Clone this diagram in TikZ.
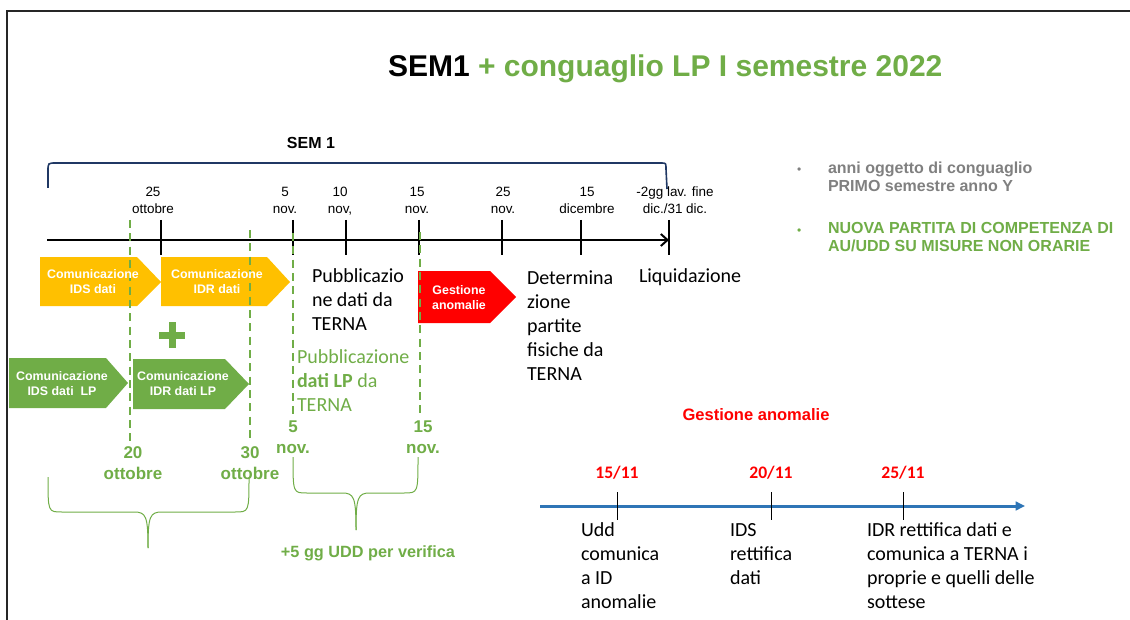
\documentclass[tikz,border=0pt]{standalone}
\usepackage{fontspec}
\setmainfont{Liberation Sans}
\newfontfamily\calib{Carlito}
\usetikzlibrary{arrows.meta}
\definecolor{lpgreen}{HTML}{70AD47}
\definecolor{ambra}{HTML}{FFC000}
\definecolor{brblue}{HTML}{203864}
\definecolor{tlblue}{HTML}{2E75B6}
\definecolor{bulgray}{HTML}{808080}
\tikzset{
  txt/.style={inner sep=0pt, outer sep=0pt},
  ticklbl/.style={txt, anchor=base, align=center, font=\fontsize{10.1}{12.75}\selectfont},
  boxtxt/.style={txt, anchor=base, align=center, text=white, font=\fontsize{9.3}{11.25}\selectfont\bfseries},
  caltxt/.style={txt, anchor=base west, align=left, font=\calib\fontsize{15}{18}\selectfont},
  gdate/.style={txt, anchor=base, align=center, text=lpgreen, font=\fontsize{12.75}{15.75}\selectfont\bfseries},
  gdash/.style={lpgreen, line width=1.5pt, dash pattern=on 6pt off 4pt},
  gbrace/.style={lpgreen, line width=0.75pt},
  tickmark/.style={black, line width=0.9pt},
  bultxt/.style={txt, anchor=base west, align=left, font=\fontsize{12}{13.5}\selectfont\bfseries},
}
\begin{document}
\begin{tikzpicture}[x=0.75pt,y=-0.75pt]
\useasboundingbox (0,0) rectangle (1130,620);
% frame
\draw[line width=1.5pt, black!85] (7,620) -- (7,11) -- (1130,11);
% title
\node[txt, anchor=base west, font=\fontsize{22.5}{27}\selectfont\bfseries] (title) at (388,76.5) {SEM1 \textcolor{lpgreen}{+ conguaglio LP I semestre 2022}};
% SEM 1 bracket
\node[txt, anchor=base, font=\fontsize{12}{14}\selectfont\bfseries] (sem) at (311,149) {SEM 1};
\draw[brblue, line width=1.2pt] (48,188) -- (48,171) .. controls (48,163) .. (56,163) -- (661,163) .. controls (666,163) .. (666,169) -- (667,189);
% main axis
\coordinate (ax0) at (47,240);
\coordinate (ax1) at (669,240);
\draw[line width=1.5pt, -{Straight Barb[length=5pt,width=9pt]}] (ax0) -- (ax1);
\foreach \t in {161,293,346,419,502,581,669} \draw[tickmark] (\t,220) -- (\t,255);
\node[ticklbl] (l25o) at (153,214) {25\\ottobre};
\node[ticklbl] (l5n) at (285,214) {5\\nov.};
\node[ticklbl] (l10n) at (340,214) {10\\nov,};
\node[ticklbl] (l15n) at (417,214) {15\\nov.};
\node[ticklbl] (l25n) at (503,214) {25\\nov.};
\node[ticklbl] (l15d) at (587,214) {15\\dicembre};
\node[ticklbl] (lfin) at (675,214) {-2gg lav. fine\\dic./31 dic.};
% arrow boxes
\fill[ambra] (40,257) -- (137,257) -- (161,282) -- (137,306) -- (40,306) -- cycle;
\fill[ambra] (161,257) -- (267,257) -- (290,282) -- (267,306) -- (161,306) -- cycle;
\fill[lpgreen] (9,358) -- (106,358) -- (128,383) -- (106,408) -- (9,408) -- cycle;
\fill[lpgreen] (133,359) -- (225,359) -- (249,384) -- (225,409) -- (133,409) -- cycle;
\fill[red] (418,271) -- (490,271) -- (516,297) -- (490,323) -- (418,323) -- cycle;
% green dashed lines
\draw[gdash] (130,220) -- (130,441);
\draw[gdash] (250,230) -- (250,442);
\draw[gdash] (293,233) -- (293,417);
\draw[gdash] (420,232) -- (420,417);
% box texts
\node[boxtxt] (ids) at (93,293.5) {Comunicazione\\IDS dati};
\node[boxtxt] (idr) at (217,293.5) {Comunicazione\\IDR dati};
\node[boxtxt] (idslp) at (62,395.5) {Comunicazione\\IDS dati~ LP};
\node[boxtxt] (idrlp) at (183,395.5) {Comunicazione\\IDR dati LP};
\node[boxtxt] (gest) at (459,309) {Gestione\\anomalie};
% plus
\draw[lpgreen, line width=5.25pt] (159,335) -- (185,335);
\draw[lpgreen, line width=5.25pt] (172,322) -- (172,348);
% calibri texts
\node[caltxt] (pub) at (312,330) {Pubblicazio\\ne dati da\\TERNA};
\node[caltxt] (det) at (527,380) {Determina\\zione\\partite\\fisiche da\\TERNA};
\node[caltxt] (liq) at (639,282) {Liquidazione};
\node[caltxt, text=lpgreen] (publp) at (297,411) {Pubblicazione\\\textbf{dati LP} da\\TERNA};
% green dates
\node[gdate] (g5) at (293,453) {5\\nov.};
\node[gdate] (g15) at (423,453) {15\\nov.};
\node[gdate] (g20) at (133,479) {20\\ottobre};
\node[gdate] (g30) at (250,479) {30\\ottobre};
% braces
\draw[gbrace] (48,477) .. controls (48,512) and (48,512) .. (62,512) -- (134,512) .. controls (146,512) and (148,516) .. (148,548);
\draw[gbrace] (249,477) .. controls (249,512) and (249,512) .. (235,512) -- (162,512) .. controls (150,512) and (148,516) .. (148,548);
\draw[gbrace] (293,457) .. controls (293,493) and (293,493) .. (307,493) -- (342,493) .. controls (354,493) and (356,497) .. (356,530);
\draw[gbrace] (418,457) .. controls (418,493) and (418,493) .. (404,493) -- (370,493) .. controls (358,493) and (356,497) .. (356,530);
\node[txt, anchor=base, text=lpgreen, font=\fontsize{12.2}{14}\selectfont\bfseries] (verif) at (368,557) {+5 gg UDD per verifica};
% bullets
\node[txt, anchor=base west, text=bulgray, font=\fontsize{9}{10}\selectfont] (bul1) at (797,174) {\textbullet};
\node[bultxt, text=bulgray] (bt1) at (828,192) {anni oggetto di conguaglio\\PRIMO semestre anno Y};
\node[txt, anchor=base west, text=lpgreen, font=\fontsize{9}{10}\selectfont] (bul2) at (797,234) {\textbullet};
\node[bultxt, text=lpgreen] (bt2) at (828,251.5) {NUOVA PARTITA DI COMPETENZA DI\\AU/UDD SU MISURE NON ORARIE};
% gestione anomalie timeline
\node[txt, anchor=base, text=red, font=\fontsize{12.4}{14}\selectfont\bfseries] (ga) at (756,420) {Gestione anomalie};
\coordinate (bl0) at (540,506);
\coordinate (bl1) at (1025,506);
\draw[tlblue, line width=2.25pt, -{Triangle[length=7pt,width=6.5pt]}] (bl0) -- (bl1);
\foreach \t in {617,771,903} \draw[black, line width=0.75pt] (\t,492) -- (\t,520);
\node[txt, anchor=base, text=red, font=\calib\fontsize{13.2}{15}\selectfont\bfseries] (d15) at (617,478) {15/11};
\node[txt, anchor=base, text=red, font=\calib\fontsize{13.2}{15}\selectfont\bfseries] (d20) at (771,478) {20/11};
\node[txt, anchor=base, text=red, font=\calib\fontsize{13.2}{15}\selectfont\bfseries] (d25) at (903,478) {25/11};
\node[caltxt] (udd) at (581,608.5) {Udd\\comunica\\a ID\\anomalie};
\node[caltxt] (idsr) at (730,584.5) {IDS\\rettifica\\dati};
\node[caltxt] (idrr) at (867,608.5) {IDR rettifica dati e\\comunica a TERNA i\\proprie e quelli delle\\sottese};
\end{tikzpicture}
\end{document}
